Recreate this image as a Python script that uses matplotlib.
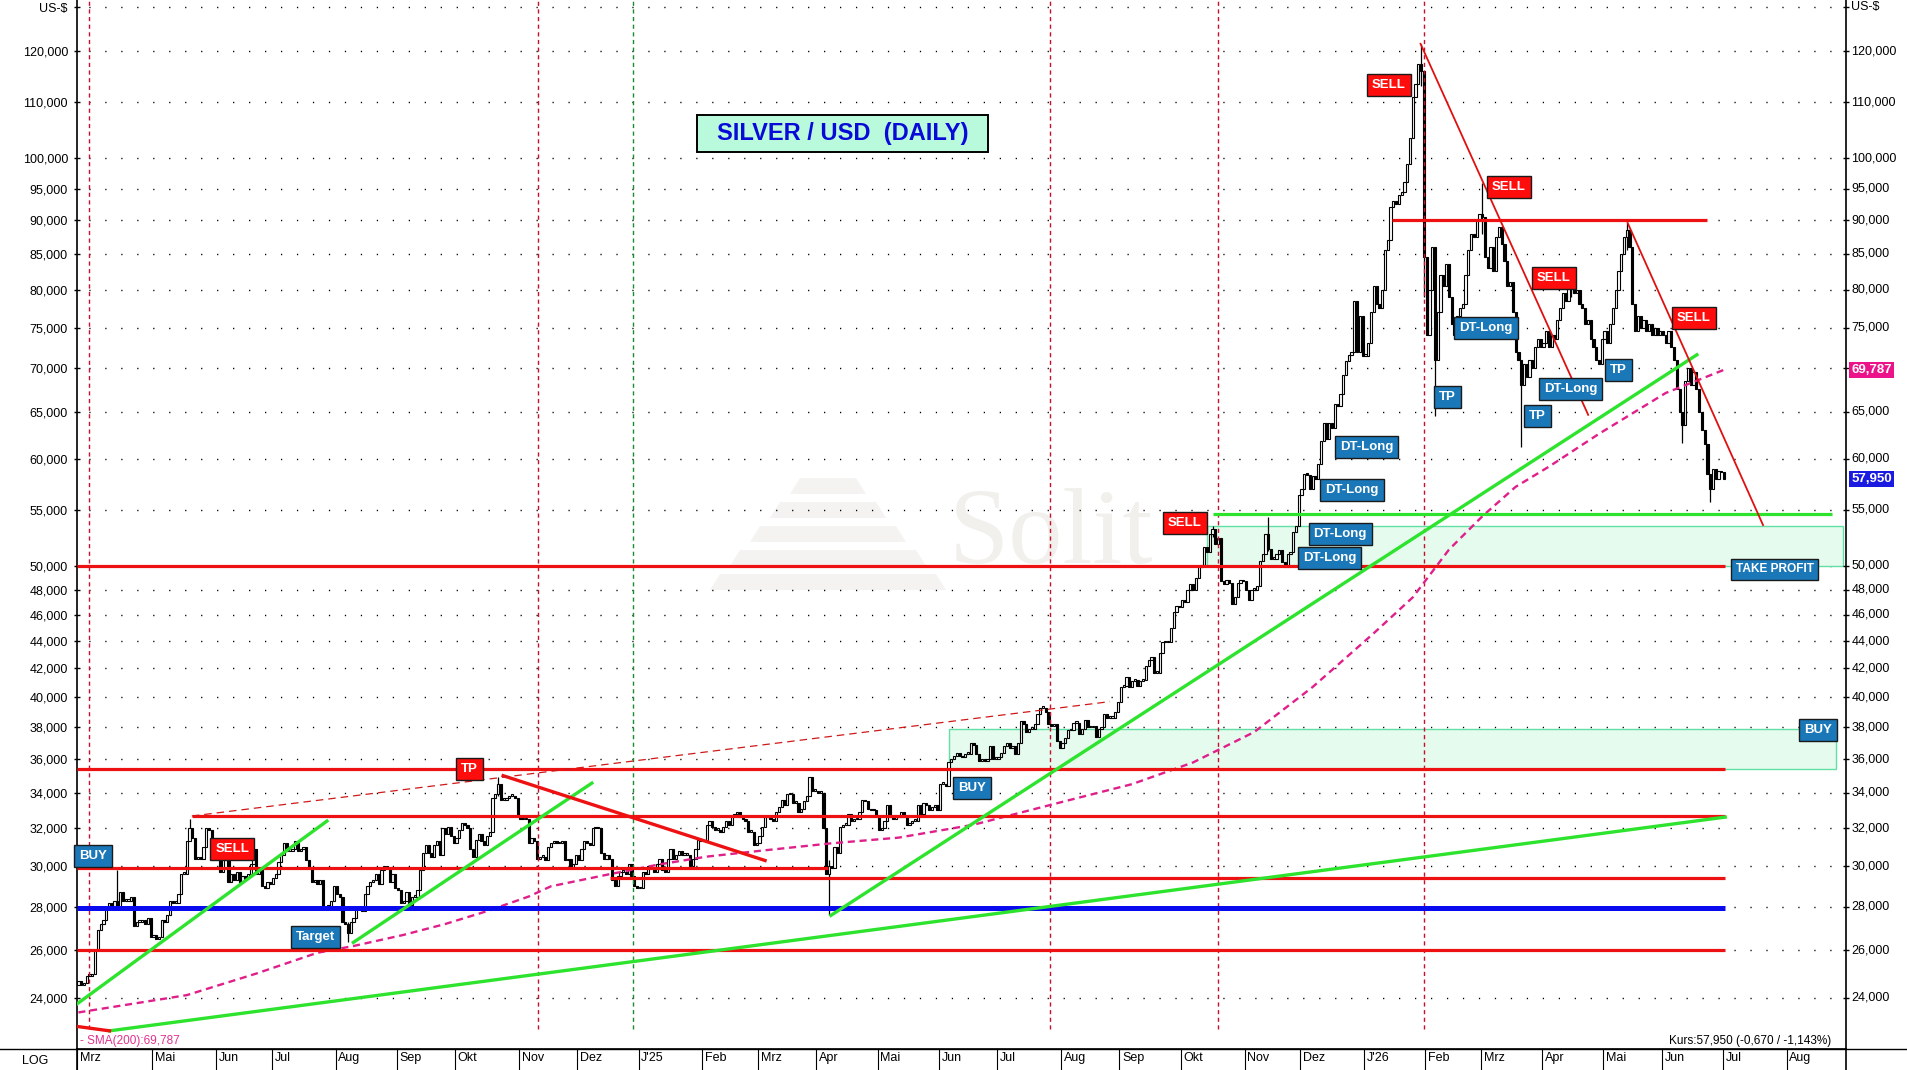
import matplotlib
matplotlib.use('Agg')
import matplotlib.pyplot as plt
import matplotlib.transforms as mtransforms
from matplotlib.lines import Line2D
from matplotlib.patches import Rectangle, Polygon
import numpy as np
import pandas as pd

plt.rcParams['font.family'] = ['Liberation Sans', 'DejaVu Sans']

# daily closes (US-$), one per weekday from 2024-03-25
close_2024 = [24.7, 24.5, 24.6, 24.9, 24.9,
              25.0, 26.0, 26.9, 27.2, 27.4, 27.9, 28.2, 28.0, 28.3, 28.0, 28.7, 28.3, 28.3, 28.3, 28.5,
              27.1, 27.3, 27.3, 27.4, 27.2, 27.5, 26.6,
              26.7, 26.5, 26.6, 27.4, 27.3, 27.6, 28.3, 28.2, 28.2, 28.6, 29.6, 29.6, 31.3, 32.0, 31.5,
              30.4, 30.5, 30.4, 31.0, 32.0, 31.9, 31.2, 30.4,
              30.5, 29.7, 30.5, 31.4, 29.2, 29.6, 29.3, 29.7, 29.2, 29.5, 29.4, 29.6, 30.1, 30.9, 29.6,
              29.8, 29.0, 28.9, 29.2, 29.1,
              29.4, 29.6, 30.2, 30.6, 31.2, 30.8, 30.8, 30.9, 31.3, 30.8, 30.9, 31.0, 30.3, 29.9, 29.2,
              29.3, 29.1, 29.3, 27.9, 28.0, 28.0, 28.3, 29.0,
              28.6, 28.5, 27.3, 27.2, 26.8, 27.3, 27.5, 27.9, 28.0, 27.8, 28.6, 29.0, 29.2, 29.3, 29.6,
              29.1, 29.8, 30.0, 29.9, 29.2, 29.6, 28.9,
              28.8, 28.2, 28.3, 28.7, 28.1, 28.5, 28.5, 28.8, 29.8, 30.7, 31.1, 30.7, 30.5, 31.1, 31.3,
              30.6, 32.0, 31.7, 32.1, 31.6, 31.2,
              31.5, 31.9, 32.3, 32.2, 32.0, 30.9, 30.5, 31.4, 31.7, 31.3, 31.1, 31.6, 31.8, 33.7, 33.9,
              34.5, 33.6, 33.6, 33.7, 33.8, 33.8, 33.7, 32.7,
              32.5, 32.5, 32.5, 31.2, 31.5, 31.3, 30.4, 30.5, 30.5, 30.3, 31.0, 31.2, 31.3, 31.2, 31.2,
              31.3, 30.3, 30.4, 29.9, 30.1, 30.6,
              30.3, 30.9, 31.3, 31.2, 31.1, 32.0, 32.1, 32.0, 30.7, 30.4, 30.6, 30.4, 29.3, 29.0, 29.5,
              29.7, 29.7, 29.6, 30.1, 29.5, 29.0, 28.9]
close_2025 = [28.9, 29.7, 29.6, 30.0, 29.9, 29.7, 30.1, 30.4, 29.8, 29.7, 30.4, 30.9, 30.4, 30.6, 30.8,
              30.6, 30.6, 30.6, 30.0, 30.4, 30.9, 31.4, 31.3,
              31.4, 32.2, 32.4, 32.1, 31.9, 31.9, 31.8, 32.1, 32.4, 32.2, 32.7, 32.8, 32.9, 32.6, 32.5,
              32.4, 31.8, 31.8, 31.1, 31.2,
              31.6, 32.1, 32.6, 32.6, 32.5, 32.4, 32.9, 33.2, 33.6, 33.3, 33.9, 33.9, 33.4, 33.4, 32.9,
              33.1, 33.5, 33.8, 34.9, 34.1, 34.1,
              34.0, 34.0, 32.0, 29.6, 30.0, 29.9, 31.0, 30.7, 32.1, 32.2, 32.2, 32.8, 32.4, 32.5, 32.5,
              32.9, 33.6, 33.5, 33.1, 33.0, 33.0, 32.7,
              31.9, 32.0, 32.4, 33.3, 32.6, 32.5, 32.7, 32.6, 32.9, 32.6, 32.2, 32.3, 32.4, 32.4, 33.3,
              32.8, 33.4, 33.3, 33.0, 33.2, 33.3, 33.0,
              34.5, 34.5, 34.4, 35.8, 36.0, 36.2, 36.4, 36.2, 36.1, 36.3, 36.3, 37.0, 36.9, 36.3, 35.9,
              36.0, 35.9, 36.0, 36.8, 36.0, 36.0,
              36.1, 36.4, 36.8, 37.0, 36.7, 36.8, 36.3, 37.0, 38.4, 38.2, 37.7, 37.9, 37.9, 38.2, 38.9,
              39.3, 39.3, 39.0, 38.2, 38.1, 38.2, 37.1, 36.7,
              37.0, 37.3, 37.8, 37.8, 38.3, 38.3, 37.6, 37.9, 38.5, 38.0, 38.0, 38.1, 37.4, 37.9, 38.0,
              38.9, 38.6, 38.6, 38.6, 39.0, 39.7,
              40.7, 40.8, 41.4, 40.7, 41.1, 41.2, 40.8, 41.1, 41.2, 42.2, 42.6, 42.8, 41.7, 41.7, 43.1,
              43.9, 44.0, 43.9, 45.0, 46.2, 46.7, 46.6,
              47.2, 47.0, 48.0, 48.5, 48.0, 49.0, 49.9, 50.1, 51.6, 51.2, 52.8, 53.2, 51.9, 52.4, 48.7,
              48.5, 48.8, 48.6, 46.9, 47.4, 48.6, 48.8, 48.7,
              48.0, 47.2, 48.0, 48.0, 48.3, 50.4, 51.0, 52.8, 51.5, 50.6, 50.6, 51.0, 51.4, 50.3, 49.9,
              51.0, 51.2, 53.0, 53.5, 56.4,
              57.0, 58.5, 58.4, 57.0, 58.3, 58.0, 59.5, 61.8, 63.8, 62.0, 63.8, 63.2, 65.8, 65.6, 67.0,
              69.2, 70.8, 71.6, 72.0, 78.5, 72.0, 76.5, 71.5]
close_2026 = [71.5, 73.0, 77.0, 80.5, 78.0, 77.5, 80.0, 85.5, 87.0, 92.0, 93.0, 92.5, 94.0, 94.5, 96.0,
              99.0, 103.5, 111.0, 113.5, 117.5, 116.0, 84.5,
              74.0, 80.0, 86.0, 71.0, 77.0, 82.0, 80.5, 83.5, 79.0, 75.5, 74.0, 76.5, 77.5, 78.0, 82.0,
              85.5, 88.0, 87.5, 90.0, 91.0,
              90.5, 84.5, 83.0, 86.0, 82.5, 87.5, 89.0, 86.5, 84.0, 80.5, 81.0, 77.0, 72.0, 71.0, 68.0,
              70.5, 69.0, 71.0, 70.0, 72.5, 73.5, 72.5,
              73.0, 74.5, 72.5, 74.0, 73.5, 76.0, 77.5, 79.5, 78.5, 80.5, 81.0, 79.5, 80.0, 78.0, 77.5,
              75.5, 76.0, 73.5, 72.5, 71.0, 70.5, 73.5,
              74.5, 73.0, 75.5, 77.5, 80.0, 82.5, 85.0, 87.5, 88.5, 86.0, 78.0, 74.5, 76.5, 75.0, 76.0,
              74.5, 75.5, 74.0, 75.0, 74.0, 74.5,
              74.0, 73.0, 74.5, 72.5, 71.0, 67.5, 65.0, 63.5, 68.5, 70.0, 68.0, 69.5, 67.5, 65.0, 63.0,
              61.5, 58.5, 57.0, 59.0, 58.0, 58.8, 58.62, 57.95]
first_open = 24.5

# long shadows visible in the chart: date -> (low, high)
wicks = {'2024-04-12': (27.9, 29.8), '2024-05-20': (31.3, 32.5), '2024-08-07': (26.4, 27.3),
         '2024-10-22': (33.8, 34.9), '2025-04-07': (27.6, 30.3), '2025-10-16': (52.5, 53.5),
         '2025-11-13': (51.3, 54.3), '2026-01-29': (113.0, 121.5), '2026-01-30': (79.0, 116.0),
         '2026-02-05': (64.5, 86.0), '2026-03-02': (88.0, 95.9), '2026-03-20': (61.2, 71.0),
         '2026-04-15': (79.0, 82.9), '2026-05-13': (85.5, 89.6), '2026-06-10': (61.6, 65.0),
         '2026-06-24': (55.7, 58.5)}

# SMA(200), read at bar numbers
sma_bar = [0, 39, 64, 86, 99, 117, 132, 147, 162, 170, 191, 209, 226, 245, 271, 295, 322,
           357, 379, 401, 423, 444, 466, 480, 493, 505, 517, 529, 547, 571, 592]
sma_val = [23.4, 24.1, 25.0, 25.9, 26.2, 26.7, 27.2, 27.8, 28.5, 29.0, 29.6, 30.1, 30.5,
           30.8, 31.2, 31.5, 32.2, 33.6, 34.5, 35.8, 37.7, 40.7, 44.6, 47.4, 51.4, 54.4, 57.2,
           59.2, 62.6, 67.1, 69.8]

ytick_vals = [24, 26, 28, 30, 32, 34, 36, 38, 40, 42, 44, 46, 48, 50, 55, 60, 65, 70, 75, 80,
              85, 90, 95, 100, 110, 120]
top_row = 129.3

# drawings (bar number, price)
red_levels = [(-0.5, 592.4, 50.0), (-0.5, 592.4, 35.4), (40.8, 592.4, 32.7), (-0.5, 269.6, 29.93),
              (191.2, 592.4, 29.4), (-0.5, 592.4, 26.0), (472.4, 585.8, 90.0)]
blue_level = (-0.5, 592.4, 27.95)
green_level = (408, 630.8, 54.66)
green_trends = [((-0.4, 23.75), (89.4, 32.4)), ((98.9, 26.36), (184.7, 34.56)),
                ((11.2, 22.68), (592.4, 32.62)), ((270.7, 27.6), (582.2, 71.6))]
red_thick_trends = [((152.8, 35.0), (247, 30.3)), ((-0.5, 22.85), (11.2, 22.68))]
red_thin_trends = [((482.8, 121.5), (543.1, 64.65)), ((557.3, 89.6), (606, 53.6))]
red_dashed_trend = ((40.8, 32.68), (371.1, 39.7))
zones = [(406, 634.7, 50.0, 53.48), (313.3, 632.2, 35.4, 37.89)]
vmarks_red = [3.8, 165.3, 349.5, 410, 484]
vmarks_green = [199.5]

signals = [(5.4, 30.55, 'BUY', 'b'), (55.3, 30.9, 'SELL', 'r'), (85.3, 26.6, 'Target', 'b'),
           (140.7, 35.4, 'TP', 'r'), (321.6, 34.3, 'BUY', 'b'), (398.1, 53.8, 'SELL', 'r'),
           (463.3, 61.2, 'DT-Long', 'b'), (458.2, 56.9, 'DT-Long', 'b'), (453.9, 52.8, 'DT-Long', 'b'),
           (450.0, 50.7, 'DT-Long', 'b'), (471.4, 113.2, 'SELL', 'r'), (514.5, 95.3, 'SELL', 'r'),
           (530.7, 81.6, 'SELL', 'r'), (581.1, 76.2, 'SELL', 'r'), (506.3, 75.0, 'DT-Long', 'b'),
           (536.8, 67.6, 'DT-Long', 'b'), (492.5, 66.6, 'TP', 'b'), (524.9, 64.5, 'TP', 'b'),
           (553.9, 69.8, 'TP', 'b'), (610.2, 49.7, 'TAKE PROFIT', 'b'), (625.8, 37.8, 'BUY', 'b')]

W, H = 1908, 1070
fig = plt.figure(figsize=(W / 100, H / 100), dpi=100)
ax = fig.add_axes([77 / W, 21 / H, (1845.6 - 77) / W, 1049 / H])
ax.set_yscale('log')
ax.set_xlim(-0.5, 635.7)
ax.set_ylim(21.99, 130.9)

bdays = pd.bdate_range('2024-03-25', '2026-09-30')
closes = np.array(close_2024 + close_2025 + close_2026)
n = len(closes)
dates = bdays[:n]
opens = np.r_[first_open, closes[:-1]]
highs = np.maximum(opens, closes)
lows = np.minimum(opens, closes)
for d, (lo, hi) in wicks.items():
    i = dates.get_loc(pd.Timestamp(d))
    lows[i] = min(lows[i], lo)
    highs[i] = max(highs[i], hi)
xs = np.arange(n)

# dotted grid rows
for v in ytick_vals + [top_row]:
    ax.axhline(v, color='black', lw=1.0, ls=(3, (0.9, 10.6)), zorder=0.5)

# faint watermark (logo + name)
def ax_px(x, y):
    return ((x - 77) / 1768.6, 1 - y / 1049)
for k in range(5):
    y0, y1 = 478 + k * 24, 494 + k * 24
    hw0, hw1 = 28 + k * 20, 38 + k * 20
    pts = [ax_px(828 - hw0, y0), ax_px(828 + hw0, y0), ax_px(828 + hw1, y1), ax_px(828 - hw1, y1)]
    ax.add_patch(Polygon(pts, closed=True, transform=ax.transAxes, facecolor='#f5f3f1',
                         edgecolor='none', zorder=0.3))
ax.text(350, 52.5, 'Solit', family='Liberation Serif', fontsize=78, color='#f2f0ec',
        ha='center', va='center', zorder=0.3)

for x0, x1, lo, hi in zones:
    ax.add_patch(Rectangle((x0, lo), x1 - x0, hi - lo, facecolor='#e4fbee', edgecolor='#63dfa4',
                           lw=1.0, zorder=1))

# candles
ax.vlines(xs, lows, highs, color='black', lw=0.9, zorder=3)
up = closes >= opens
body = np.maximum(np.abs(closes - opens), closes * 0.003)
ax.bar(xs[up], body[up], bottom=opens[up], width=0.8, color='white', edgecolor='black',
       lw=0.8, zorder=4)
ax.bar(xs[~up], body[~up], bottom=closes[~up], width=0.8, color='black', edgecolor='black',
       lw=0.8, zorder=4)

for x in vmarks_red:
    ax.plot([x, x], [22.75, 131], color='#c8102e', lw=1.0, ls=(0, (3, 2.5)), zorder=5)
for x in vmarks_green:
    ax.plot([x, x], [22.75, 131], color='#1e8b2e', lw=1.0, ls=(0, (3, 2.5)), zorder=5)

ax.plot(sma_bar, sma_val, color='#e0208a', lw=1.7, ls=(0, (3, 2)), zorder=6)

for x0, x1, v in red_levels:
    ax.plot([x0, x1], [v, v], color='#ee1111', lw=2.3, solid_capstyle='butt', zorder=7)
ax.plot(blue_level[:2], [blue_level[2]] * 2, color='#0a0aee', lw=3.6, solid_capstyle='butt', zorder=7)
ax.plot(green_level[:2], [green_level[2]] * 2, color='#2de32d', lw=2.3, solid_capstyle='butt', zorder=7)
for (x0, v0), (x1, v1) in green_trends:
    ax.plot([x0, x1], [v0, v1], color='#2de32d', lw=2.4, zorder=7)
for (x0, v0), (x1, v1) in red_thick_trends:
    ax.plot([x0, x1], [v0, v1], color='#ee1111', lw=2.4, zorder=7)
for (x0, v0), (x1, v1) in red_thin_trends:
    ax.plot([x0, x1], [v0, v1], color='#e01010', lw=1.3, zorder=7)
(x0, v0), (x1, v1) = red_dashed_trend
ax.plot([x0, x1], [v0, v1], color='#d01818', lw=0.9, ls=(0, (6, 4)), zorder=7)

colors = {'b': '#1b78b8', 'r': '#ff0d0d'}
for x, v, txt, c in signals:
    fs = 8.6 if txt == 'TAKE PROFIT' else 9.5
    ax.text(x, v, txt, color='white', fontsize=fs, fontweight='bold', ha='center', va='center',
            zorder=9, bbox=dict(boxstyle='square,pad=0.38', fc=colors[c], ec='#1a1a1a', lw=1.0))

# title box
ax.add_patch(Rectangle((0.3507, 0.8548), 0.1642, 0.0356, transform=ax.transAxes,
                       facecolor='#b9f9dc', edgecolor='black', lw=1.4, zorder=9))
ax.text(0.4328, 0.8726, 'SILVER / USD  (DAILY)', transform=ax.transAxes, color='#0a0ad8',
        fontsize=17, fontweight='bold', ha='center', va='center', zorder=10)

# y axis: left labels as ticks, right labels as texts
fmt = lambda v: f'{v:.3f}'.replace('.', ',')
ax.set_yticks(ytick_vals + [top_row])
ax.set_yticklabels([fmt(v) for v in ytick_vals] + ['US-$'])
ax.yaxis.set_minor_locator(matplotlib.ticker.NullLocator())
ax.tick_params(axis='y', which='major', left=True, right=True, direction='inout', length=5,
               width=1.0, labelsize=9, pad=4, colors='black')
yb = mtransforms.blended_transform_factory(ax.transAxes, ax.transData)
for v in ytick_vals + [top_row]:
    if v == 70:
        continue
    lab = 'US-$' if v == top_row else fmt(v)
    ax.text(1.0032, v, lab, transform=yb, fontsize=9, ha='left', va='center')
ax.text(1.0032, 69.787, '69,787', transform=yb, fontsize=9.5, fontweight='bold', color='white',
        ha='left', va='center', zorder=10,
        bbox=dict(boxstyle='square,pad=0.15', fc='#ec138a', ec='none'))
ax.text(1.0032, 57.95, '57,950', transform=yb, fontsize=9.5, fontweight='bold', color='white',
        ha='left', va='center', zorder=10,
        bbox=dict(boxstyle='square,pad=0.15', fc='#1a1ae0', ec='none'))

# x axis: month separators with labels to their right
de_month = {2: 'Feb', 3: 'Mrz', 4: 'Apr', 5: 'Mai', 6: 'Jun', 7: 'Jul', 8: 'Aug', 9: 'Sep',
            10: 'Okt', 11: 'Nov', 12: 'Dez'}
tick_pos, tick_lab = [-0.5], ['Mrz']
for i in range(1, len(bdays)):
    d = bdays[i]
    if d.month != bdays[i - 1].month and i < 635.7:
        if d.year == 2024 and d.month == 4:
            continue
        tick_pos.append(i - 0.5)
        tick_lab.append(f"J'{d.year % 100}" if d.month == 1 else de_month[d.month])
ax.set_xticks(tick_pos)
ax.set_xticklabels(tick_lab, fontsize=9, family=['Liberation Sans Narrow', 'Liberation Sans'])
ax.tick_params(axis='x', direction='out', length=15.5, width=0.8, pad=-13)
offset = mtransforms.ScaledTranslation(2 / 72, 0, fig.dpi_scale_trans)
for lab in ax.get_xticklabels():
    lab.set_ha('left')
    lab.set_transform(lab.get_transform() + offset)

for s in ['left', 'right', 'bottom']:
    ax.spines[s].set_linewidth(1.2)
ax.spines['top'].set_visible(False)

fig.add_artist(Line2D([0, 1], [21 / H, 21 / H], color='black', lw=1.0, transform=fig.transFigure))
for xf in (77 / W, 1845.6 / W):
    fig.add_artist(Line2D([xf, xf], [0, 21 / H], color='black', lw=1.2, transform=fig.transFigure))
fig.text(35 / W, 9 / H, 'LOG', fontsize=9, ha='center', va='center')

ax.text(0.0015, 0.0072, '- SMA(200):69,787', transform=ax.transAxes, color='#e0308f',
        fontsize=8.5, ha='left', va='center')
ax.text(0.9918, 0.0072, 'Kurs:57,950 (-0,670 / -1,143%)', transform=ax.transAxes,
        fontsize=8.5, ha='right', va='center')

fig.savefig('out.png', dpi=100, facecolor='white')
